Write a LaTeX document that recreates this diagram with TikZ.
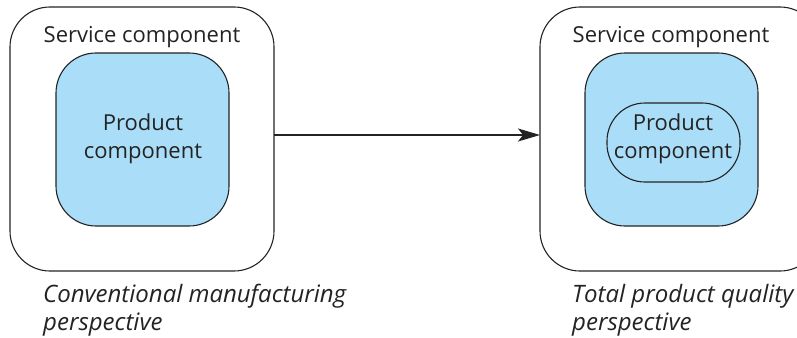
\documentclass[tikz,border=0pt]{standalone}
\usepackage{fontspec}
\setmainfont{Open Sans}
\usetikzlibrary{arrows.meta}
\definecolor{prodblue}{RGB}{170,222,248}
\definecolor{linegray}{RGB}{35,35,35}
\tikzset{
  outerbox/.style={draw=linegray, line width=1.1pt, rounded corners=40pt},
  innerbox/.style={draw=linegray, line width=1.1pt, fill=prodblue, rounded corners=40pt},
  stadium/.style={draw=linegray, line width=1.1pt, rounded corners=38pt},
  lbl/.style={font=\fontsize{22}{28}\selectfont, text=linegray, align=center, inner sep=0pt},
  captext/.style={font=\fontsize{24}{28}\selectfont\itshape, text=linegray, align=left, inner sep=0pt, anchor=west},
}
\begin{document}
\begin{tikzpicture}[x=1pt,y=-1pt]
\useasboundingbox (0,0) rectangle (797,337);
% left
\draw[outerbox] (10,7) rectangle (274,271);
\coordinate (lo) at (274,135);
\draw[innerbox] (56,53) rectangle (229,226);
\node[lbl] (ls) at (142,37) {Service component};
\node[lbl] (lp) at (143,139) {Product\\component};
% right
\draw[outerbox] (540,7) rectangle (820,271);
\coordinate (ri) at (540,135);
\draw[innerbox] (585,53) rectangle (758,226);
\draw[stadium] (607,103) rectangle (740,182);
\node[lbl] (rs) at (671,37) {Service component};
\node[lbl] (rp) at (673,139) {Product\\component};
% arrow
\draw[linegray, line width=1.1pt, -{Stealth[length=22pt,width=13pt,inset=5pt]}] (lo) -- (ri);
% captions
\node[captext] (lc) at (43,310) {Conventional manufacturing\\perspective};
\node[captext] (rc) at (572,310) {Total product quality\\perspective};
\end{tikzpicture}
\end{document}
